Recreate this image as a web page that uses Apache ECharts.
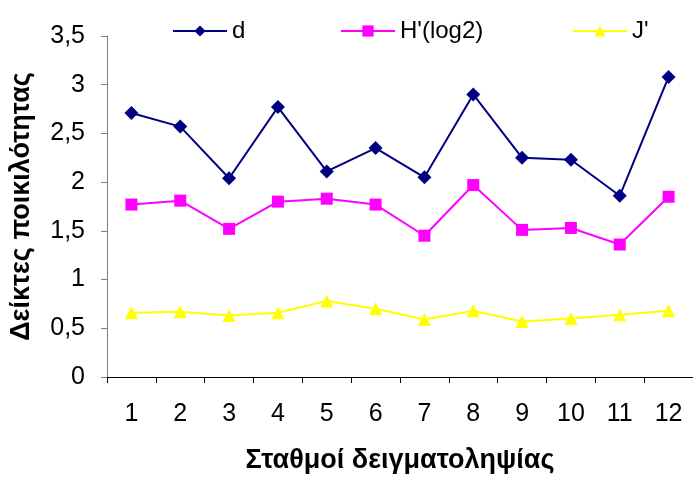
<!DOCTYPE html>
<html>
<head>
<meta charset="utf-8">
<script src="https://cdn.jsdelivr.net/npm/echarts@6/dist/echarts.min.js"></script>
<style>
  html, body { margin: 0; padding: 0; background: #fff; }
  #chart { width: 693px; height: 479px; }
</style>
</head>
<body>
<div id="chart"></div>
<script>
var stations = ['1', '2', '3', '4', '5', '6', '7', '8', '9', '10', '11', '12'];
var dValues = [2.71, 2.57, 2.04, 2.77, 2.11, 2.35, 2.05, 2.90, 2.25, 2.23, 1.86, 3.08];
var hValues = [1.77, 1.81, 1.52, 1.80, 1.83, 1.77, 1.45, 1.97, 1.51, 1.53, 1.36, 1.85];
var jValues = [0.66, 0.67, 0.63, 0.66, 0.78, 0.70, 0.59, 0.68, 0.57, 0.60, 0.64, 0.68];

var chart = echarts.init(document.getElementById('chart'));
var font = 'Liberation Sans, Arial, sans-serif';
var legendText = { fontSize: 24, color: '#000', fontFamily: font };

var option = {
    animation: false,
    textStyle: { fontFamily: font },
    legend: [
        { data: ['d'], left: 167, top: 14, itemWidth: 54, itemHeight: 14, itemGap: 0, textStyle: legendText },
        { data: ["H'(log2)"], left: 335, top: 14, itemWidth: 54, itemHeight: 14, itemGap: 0, textStyle: legendText },
        { data: ["J'"], left: 567, top: 14, itemWidth: 54, itemHeight: 14, itemGap: 0, textStyle: legendText }
    ],
    grid: {
        left: 106,
        right: 0,
        top: 36,
        bottom: 96,
        containLabel: false
    },
    xAxis: {
        type: 'category',
        data: stations,
        boundaryGap: true,
        name: 'Σταθμοί δειγματοληψίας',
        nameLocation: 'middle',
        nameGap: 70,
        nameTextStyle: { fontSize: 27, fontWeight: 'bold', color: '#000', fontFamily: font },
        axisLine: { lineStyle: { color: '#000', width: 1 } },
        axisTick: { show: true, length: 6, alignWithLabel: false, lineStyle: { color: '#000' } },
        axisLabel: { fontSize: 25, color: '#000', margin: 25, fontFamily: font },
        splitLine: { show: false }
    },
    yAxis: {
        type: 'value',
        min: 0,
        max: 3.5,
        interval: 0.5,
        name: 'Δείκτες ποικιλότητας',
        nameLocation: 'middle',
        nameGap: 72,
        nameTextStyle: { fontSize: 27, fontWeight: 'bold', color: '#000', fontFamily: font },
        axisLine: { show: true, lineStyle: { color: '#808080', width: 1 } },
        axisTick: { show: true, length: 6, lineStyle: { color: '#808080' } },
        axisLabel: {
            fontSize: 25,
            color: '#000',
            margin: 22,
            fontFamily: font,
            formatter: function (v) { return String(v).replace('.', ','); }
        },
        splitLine: { show: false }
    },
    series: [
        {
            name: 'd',
            type: 'line',
            data: dValues,
            symbol: 'diamond',
            symbolSize: 14,
            itemStyle: { color: '#000080' },
            lineStyle: { color: '#000080', width: 2 }
        },
        {
            name: "H'(log2)",
            type: 'line',
            data: hValues,
            symbol: 'rect',
            symbolSize: 12,
            itemStyle: { color: '#ff00ff' },
            lineStyle: { color: '#ff00ff', width: 2 }
        },
        {
            name: "J'",
            type: 'line',
            data: jValues,
            symbol: 'triangle',
            symbolSize: 13,
            itemStyle: { color: '#ffff00' },
            lineStyle: { color: '#ffff00', width: 2 }
        }
    ]
};
chart.setOption(option);
window.onresize = function () {
    chart.resize();
};
</script>
</body>
</html>
